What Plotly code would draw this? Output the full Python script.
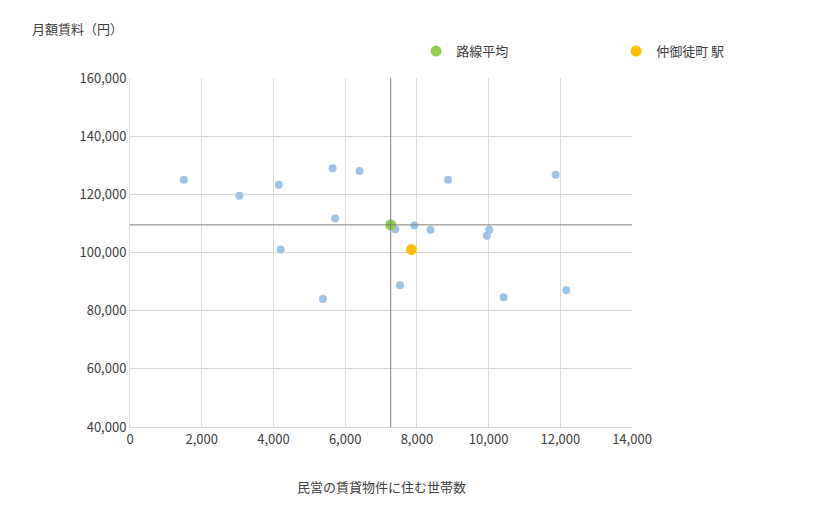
import plotly.graph_objects as go

xs = [1500, 3050, 4150, 4200, 5380, 5650, 5720, 6400, 7400, 7530, 7930, 8380, 8870, 9950, 10020, 10420, 11870, 12170]
ys = [125000, 119500, 123300, 101000, 84000, 129000, 111700, 128000, 108000, 88700, 109300, 107800, 125000, 105800, 107800, 84600, 126700, 87000]
avg_x, avg_y = [7270], [109500]
st_x, st_y = [7850], [101000]

fig = go.Figure()
fig.add_trace(go.Scatter(x=xs, y=ys, mode="markers", marker=dict(color="#9DC3E6", size=8), showlegend=False))
fig.add_trace(go.Scatter(x=avg_x, y=avg_y, mode="markers", marker=dict(color="#92D050", size=11), name="路線平均"))
fig.add_trace(go.Scatter(x=st_x, y=st_y, mode="markers", marker=dict(color="#FFC000", size=11), name="仲御徒町 駅"))
fig.add_vline(x=avg_x[0], line=dict(color="#808080", width=1))
fig.add_hline(y=avg_y[0], line=dict(color="#808080", width=1))

fig.update_layout(
    width=820, height=510, margin=dict(l=122, r=56, t=70, b=91),
    paper_bgcolor="white", plot_bgcolor="white",
    font=dict(family="Noto Sans CJK JP", size=13, color="#404040"),
    legend=dict(orientation="h", x=0.57, y=1.077, xanchor="left", yanchor="middle",
                font=dict(size=13), itemwidth=30, entrywidth=155),
    xaxis=dict(range=[0, 14000], dtick=2000, tickformat=",", showgrid=True, gridcolor="#D9D9D9",
               zeroline=False, showline=True, linecolor="#D9D9D9", automargin=False),
    yaxis=dict(range=[40000, 160000], dtick=20000, tickformat=",", showgrid=True, gridcolor="#D9D9D9",
               zeroline=False, showline=True, linecolor="#D9D9D9", automargin=False),
    annotations=[
        dict(text="月額賃料（円）", xref="paper", yref="paper", x=-0.20, y=1.143,
             xanchor="left", yanchor="middle", showarrow=False, font=dict(size=13)),
        dict(text="民営の賃貸物件に住む世帯数", xref="paper", yref="paper", x=0.5, y=-0.17,
             xanchor="center", yanchor="middle", showarrow=False, font=dict(size=13)),
    ],
)
fig.write_html("out.html")
